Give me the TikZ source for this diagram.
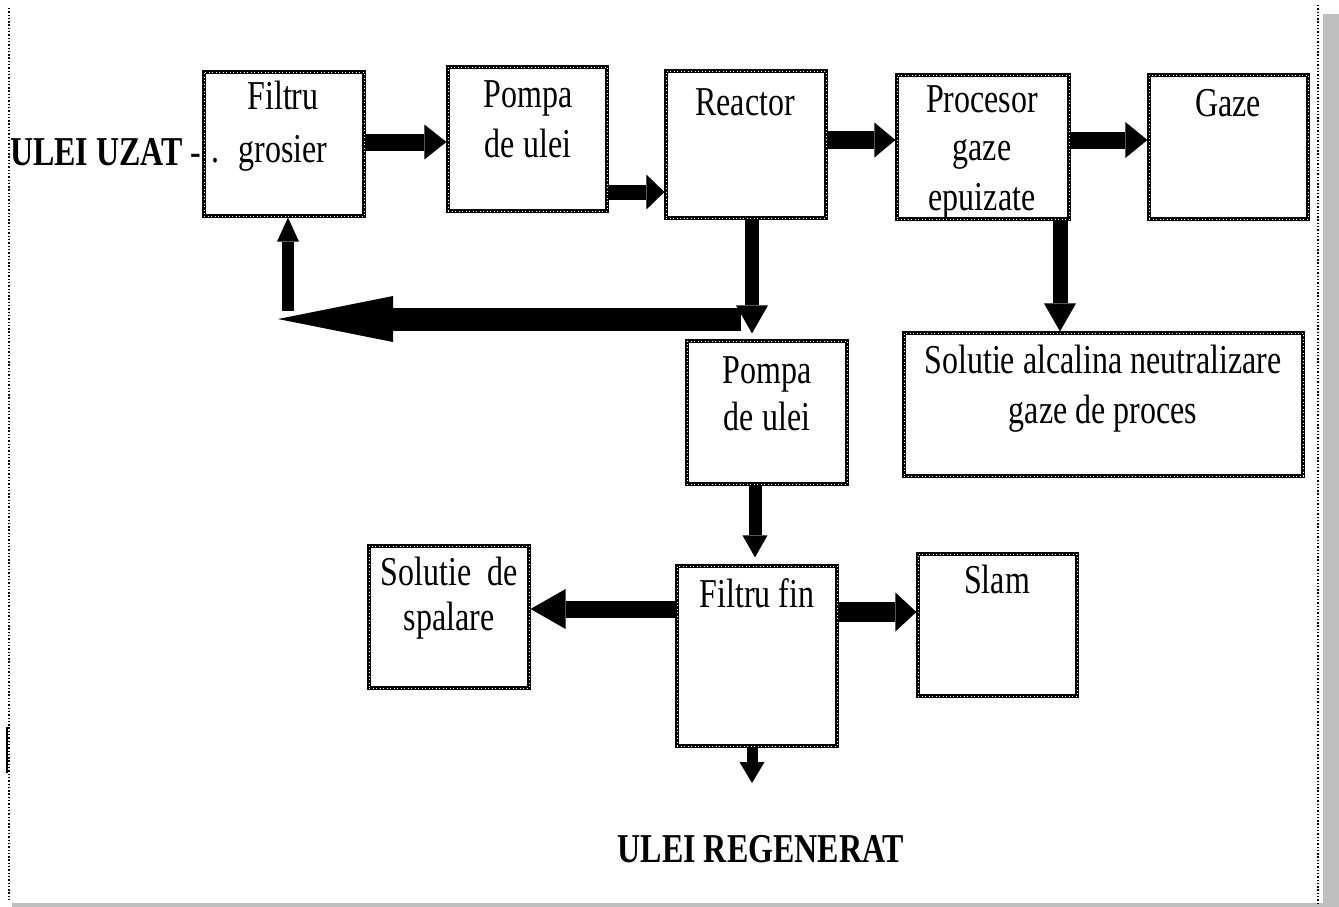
\documentclass[tikz,border=0pt]{standalone}
\usepackage{fontspec}
\setmainfont{Liberation Serif}[FakeStretch=0.78]
\usetikzlibrary{arrows.meta}
\begin{document}
\begin{tikzpicture}[x=1pt,y=-1pt,
  box/.style={draw=black, line width=3.2pt, inner sep=0pt,
    postaction={draw=white, line width=0.7pt, dash pattern=on 0.7pt off 2.8pt}},
  txt/.style={font=\fontsize{41}{48}\selectfont, inner sep=0pt, anchor=base},
  bar/.style 2 args={-{Triangle[length=#1, width=#2, line width=0pt]}}]
\useasboundingbox (0,0) rectangle (1339,907);
% frame
\fill[black!25] (1323,14) rectangle (1339,907);
\fill[black!25] (12,903) rectangle (1339,907);
\draw[line width=1.6pt, dash pattern=on 1.4pt off 1.9pt] (9,8) -- (9,900);
\draw[line width=1.6pt, dash pattern=on 1.4pt off 1.9pt] (1318,5) -- (1318,903);
\draw[line width=2pt] (7,727) -- (7,773);
% boxes
\node[box, minimum width=160pt, minimum height=144pt] (fg) at (284,144) {};
\node[box, minimum width=159pt, minimum height=144pt] (p1) at (527.5,139) {};
\node[box, minimum width=160pt, minimum height=147pt] (re) at (746,144.5) {};
\node[box, minimum width=172pt, minimum height=144pt] (pr) at (983,147) {};
\node[box, minimum width=159pt, minimum height=144pt] (ga) at (1228.5,147) {};
\node[box, minimum width=160pt, minimum height=143pt] (p2) at (767,412.5) {};
\node[box, minimum width=399pt, minimum height=143pt] (sa) at (1103.5,404.5) {};
\node[box, minimum width=160pt, minimum height=142pt] (ss) at (449,617) {};
\node[box, minimum width=160pt, minimum height=180pt] (ff) at (757,656) {};
\node[box, minimum width=159pt, minimum height=142pt] (sl) at (997.5,625) {};
% texts
\node[txt] (fgt1) at (283,110) {Filtru};
\node[txt] (fgt2) at (283,162) {grosier};
\node[txt] (fgdot) at (215,162) {.};
\node[txt, anchor=base west] (in) at (10,165) {\bfseries ULEI UZAT\mdseries\ -};
\node[txt] (p1t1) at (528,107) {Pompa};
\node[txt] (p1t2) at (528,157) {de ulei};
\node[txt] (ret) at (745,115) {Reactor};
\node[txt] (prt1) at (982,113) {Procesor};
\node[txt] (prt2) at (982,160) {gaze};
\node[txt] (prt3) at (982,210) {epuizate};
\node[txt] (gat) at (1228,116) {Gaze};
\node[txt] (p2t1) at (767,383) {Pompa};
\node[txt] (p2t2) at (767,430) {de ulei};
\node[txt] (sat1) at (1103,373) {Solutie alcalina neutralizare};
\node[txt] (sat2) at (1103,423) {gaze de proces};
\node[txt] (sst1) at (449,585) {Solutie\ \ de};
\node[txt] (sst2) at (449,630) {spalare};
\node[txt] (fft) at (757,607) {Filtru fin};
\node[txt] (slt) at (997,593) {Slam};
\node[txt] (out) at (761,862) {\bfseries ULEI REGENERAT};
% arrows
\draw[line width=17pt, bar={22pt}{35pt}] (fg.east |- 0,142) -- (p1.west |- 0,142);
\draw[line width=15pt, bar={18pt}{35pt}] (p1.east |- 0,192) -- (re.west |- 0,192);
\draw[line width=18pt, bar={21pt}{35pt}] (re.east |- 0,140) -- (pr.west |- 0,140);
\draw[line width=17pt, bar={22pt}{36pt}] (pr.east |- 0,140) -- (ga.west |- 0,140);
\draw[line width=15pt, bar={28pt}{32pt}] (pr.south -| 1060,0) -- (sa.north -| 1060,0);
\draw[line width=14pt, bar={28pt}{32pt}, shorten >=6pt] (re.south -| 752,0) -- (p2.north -| 752,0);
\coordinate (retstart) at (741,319);
\coordinate (retend) at (278,319);
\draw[line width=23pt, bar={115pt}{46pt}] (retstart) -- (retend);
\coordinate (upstart) at (288,311);
\draw[line width=12pt, bar={24pt}{22pt}] (upstart) -- (fg.south -| 288,0);
\draw[line width=13pt, bar={22pt}{25pt}, shorten >=7pt] (p2.south -| 755,0) -- (ff.north -| 755,0);
\draw[line width=17pt, bar={35pt}{40pt}] (ff.west |- 0,609) -- (ss.east |- 0,609);
\draw[line width=20pt, bar={21pt}{39pt}] (ff.east |- 0,612) -- (sl.west |- 0,612);
\coordinate (outarrow) at (752,783);
\draw[line width=11pt, bar={21pt}{25pt}] (ff.south -| 752,0) -- (outarrow);
\end{tikzpicture}
\end{document}
